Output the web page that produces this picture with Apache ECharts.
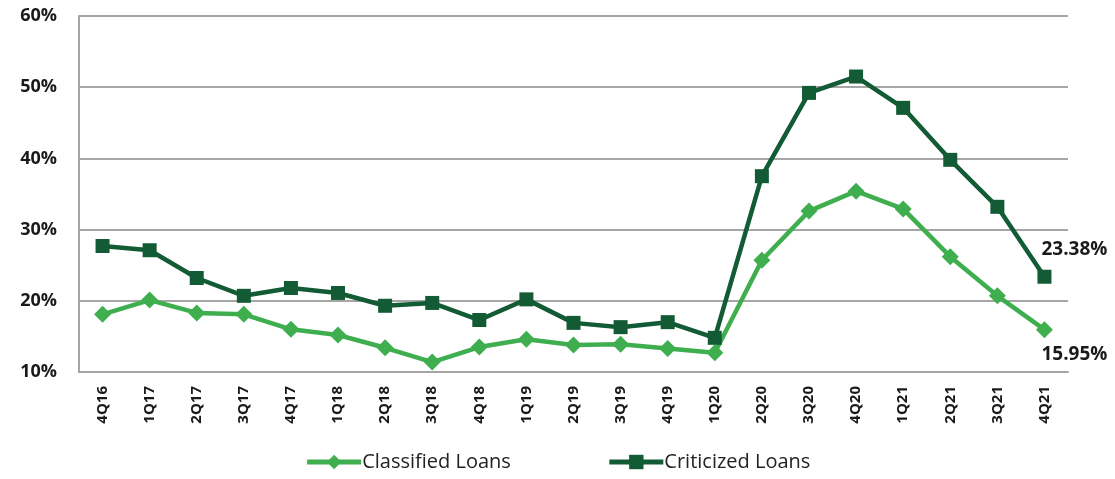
<!DOCTYPE html>
<html>
<head>
<meta charset="utf-8">
<script src="https://cdn.jsdelivr.net/npm/echarts@6/dist/echarts.min.js"></script>
<style>
    html, body { margin: 0; padding: 0; background: #fff; }
    #chart { width: 1115px; height: 479px; }
</style>
</head>
<body>
<div id="chart"></div>
<script>
    var quarters = ['4Q16', '1Q17', '2Q17', '3Q17', '4Q17', '1Q18', '2Q18', '3Q18', '4Q18', '1Q19', '2Q19',
        '3Q19', '4Q19', '1Q20', '2Q20', '3Q20', '4Q20', '1Q21', '2Q21', '3Q21', '4Q21']
    var classified = [18.1, 20.1, 18.3, 18.1, 16.0, 15.2, 13.4, 11.4, 13.5, 14.6, 13.8,
        13.9, 13.3, 12.7, 25.7, 32.6, 35.4, 32.9, 26.2, 20.7, 15.95]
    var criticized = [27.7, 27.1, 23.2, 20.7, 21.8, 21.1, 19.3, 19.7, 17.3, 20.2, 16.9,
        16.3, 17.0, 14.8, 37.5, 49.2, 51.5, 47.1, 39.8, 33.2, 23.38]

    var lightGreen = '#3FAE4F'
    var darkGreen = '#125B34'
    var gridColor = '#A6A6A6'
    var font = 'Open Sans'

    // only the last point gets a value label
    function lastLabel(arr, pos, offset) {
        return arr.map(function (v, i) {
            if (i !== arr.length - 1) return v
            return {
                value: v,
                label: {
                    show: true,
                    position: pos,
                    offset: offset,
                    formatter: v.toFixed(2) + '%',
                    color: '#1a1a1a',
                    fontFamily: font,
                    fontWeight: 'bold',
                    fontSize: 19
                }
            }
        })
    }

    var chart = echarts.init(document.getElementById('chart'))
    chart.setOption({
        animation: false,
        grid: { left: 79, right: 47, top: 16, bottom: 107 },
        legend: {
            bottom: 2,
            left: 'center',
            itemWidth: 54,
            itemHeight: 18,
            itemGap: 96,
            lineStyle: { width: 5 },
            textStyle: { fontFamily: font, fontSize: 20, color: '#222', padding: [0, 0, 0, -4] },
            data: ['Classified Loans', 'Criticized Loans']
        },
        xAxis: {
            type: 'category',
            data: quarters,
            boundaryGap: true,
            axisLine: { lineStyle: { color: gridColor, width: 2 } },
            axisTick: { show: false },
            axisLabel: {
                rotate: 90,
                margin: 14,
                color: '#1a1a1a',
                fontFamily: font,
                fontWeight: 'bold',
                fontSize: 15
            }
        },
        yAxis: {
            type: 'value',
            min: 10,
            max: 60,
            interval: 10,
            axisLine: { show: true, lineStyle: { color: gridColor, width: 2 } },
            axisTick: { show: false },
            splitLine: { lineStyle: { color: gridColor, width: 2 } },
            axisLabel: {
                formatter: '{value}%',
                margin: 22,
                color: '#1a1a1a',
                fontFamily: font,
                fontWeight: 'bold',
                fontSize: 18
            }
        },
        series: [
            {
                name: 'Classified Loans',
                type: 'line',
                data: lastLabel(classified, 'bottom', [30, 2]),
                symbol: 'diamond',
                symbolSize: 17,
                itemStyle: { color: lightGreen },
                lineStyle: { color: lightGreen, width: 4.5 },
                z: 3
            },
            {
                name: 'Criticized Loans',
                type: 'line',
                data: lastLabel(criticized, 'top', [30, -6]),
                symbol: 'rect',
                symbolSize: 14,
                itemStyle: { color: darkGreen },
                lineStyle: { color: darkGreen, width: 4.5 },
                z: 4
            }
        ]
    })
</script>
</body>
</html>
